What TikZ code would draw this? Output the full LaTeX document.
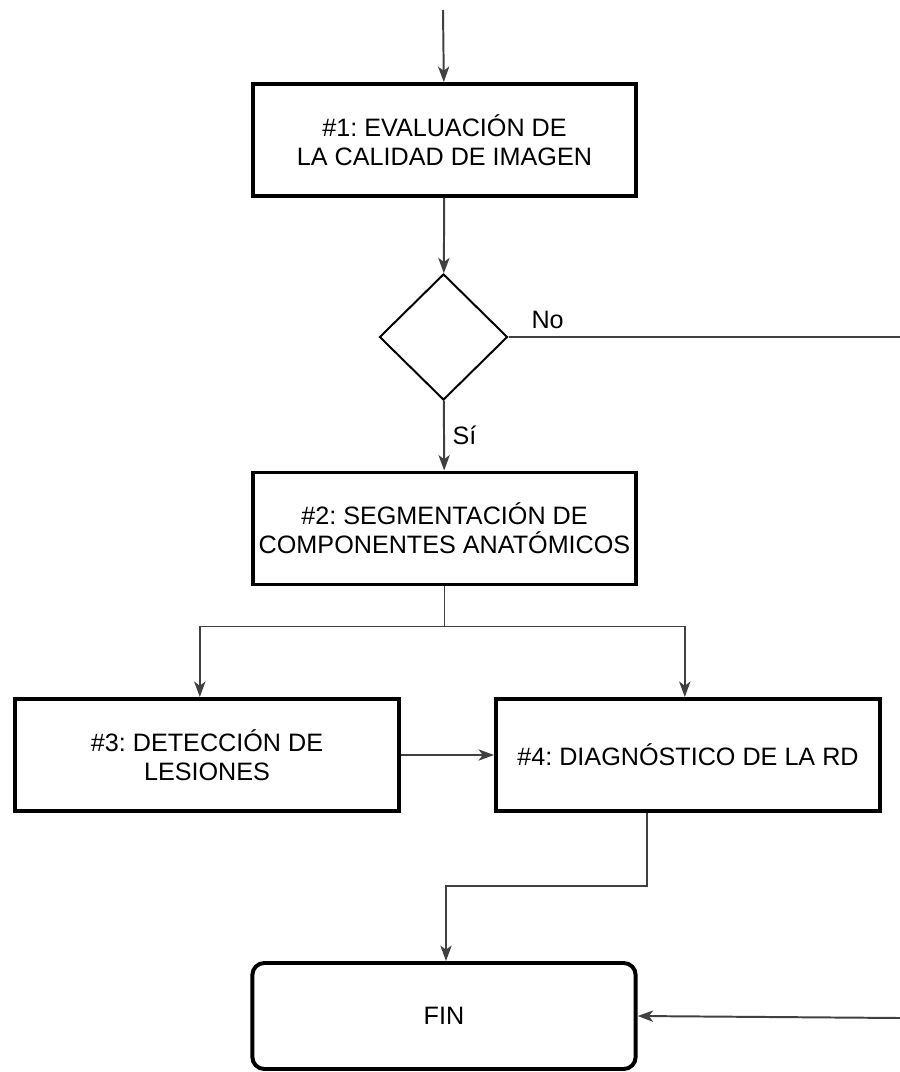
\documentclass[tikz,border=0pt]{standalone}
\usepackage{fontspec}
\setmainfont{Liberation Sans}
\usepackage{tikz}
\usetikzlibrary{shapes,arrows.meta,positioning,calc}
\frenchspacing

\begin{document}
\begin{tikzpicture}[x=0.025cm,y=-0.025cm,
		caja/.style={draw,line width=2.8pt,minimum width=9.58cm,minimum height=2.8cm,inner sep=0pt,align=center,font=\fontsize{17.9}{20.6}\selectfont},
		decision/.style={draw,diamond,line width=1.4pt,minimum width=3.2cm,minimum height=3.15cm,inner sep=0pt},
		flecha/.style={draw=black!75,line width=1.4pt,-{Stealth[length=11pt,width=8pt,inset=3pt]}},
		linea/.style={draw=black!75,line width=1.4pt},
		etiqueta/.style={font=\fontsize{17.9}{20.6}\selectfont}]
		\useasboundingbox (0,0) rectangle (900,1072);
		
		\coordinate (inicio) at (443,10);
		\node[caja] (eval) at (444.5,140) {\#1: EVALUACIÓN DE\\LA CALIDAD DE IMAGEN};
		\node[decision] (calidad) at (443.5,337) {};
		\node[caja] (segm) at (444.5,528.5) {\#2: SEGMENTACIÓN DE\\COMPONENTES ANATÓMICOS};
		\node[caja,minimum width=9.6cm] (detec) at (207,755) {\#3: DETECCIÓN DE\\LESIONES};
		\node[caja,minimum width=9.6cm] (diag) at (688,755) {\#4: DIAGNÓSTICO DE LA RD};
		\node[caja,rounded corners=0.3cm,minimum height=2.65cm] (fin) at (444,1016) {FIN};
		\coordinate (noend) at (900,337);
		\coordinate (finin) at (900,1018);
		
		\draw[flecha] (inicio) -- (eval);
		\draw[flecha] (eval) -- (calidad);
		\draw[linea] (calidad.east) -- (noend) node[etiqueta,pos=0.1,above=2pt] {No};
		\draw[flecha] (calidad) -- (segm) node[etiqueta,midway,right=2pt] {Sí};
		\draw[flecha] (segm.south) -- ++(0,40) -| ([xshift=-0.18cm]detec.north);
		\draw[flecha] (segm.south) -- ++(0,40) -| ([xshift=-0.08cm]diag.north);
		\draw[flecha] (detec) -- (diag);
		\draw[flecha] ([xshift=-1.02cm]diag.south) -- ++(0,73) -| ([xshift=0.05cm]fin.north);
		\draw[flecha] (finin) -- (fin.east);
		
\end{tikzpicture}
\end{document}
